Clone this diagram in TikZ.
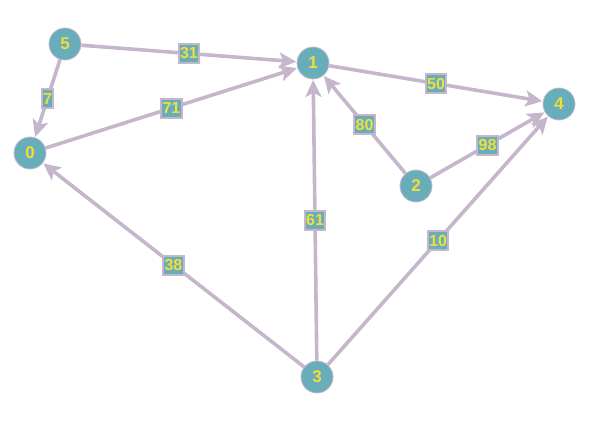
\documentclass[tikz,border=0pt]{standalone}
\usepackage{fontspec}
\setmainfont{Liberation Sans}
\usetikzlibrary{arrows.meta}
\definecolor{vertexfill}{HTML}{68ADBA}
\definecolor{edgecol}{HTML}{C6B6CB}
\definecolor{numcol}{HTML}{F2DE3A}
\begin{document}
\begin{tikzpicture}[x=1pt,y=-1pt,
  vertex/.style={circle,fill=vertexfill,draw=edgecol,line width=0.8pt,minimum size=32pt,inner sep=0pt,
    text=numcol,font=\bfseries\fontsize{17}{17}\selectfont},
  link/.style={draw=edgecol,line width=3.6pt,-{Stealth[length=17pt,width=16pt,inset=4pt]},shorten >=0.5pt},
  weight/.style={fill=vertexfill,draw=edgecol,line width=2pt,inner sep=1.2pt,minimum height=19pt,
    text=numcol,font=\bfseries\fontsize{16}{16}\selectfont,pos=0.5}]
\useasboundingbox (0,0) rectangle (589,423);
\node[vertex] (n5) at (65,44) {5};
\node[vertex] (n1) at (313,63) {1};
\node[vertex] (n4) at (559,104) {4};
\node[vertex] (n0) at (30,153) {0};
\node[vertex] (n2) at (416,186) {2};
\node[vertex] (n3) at (317,377) {3};
\path[link] (n5) -- node[weight] {31} (n1);
\path[link] (n5) -- node[weight] {7} (n0);
\path[link] (n0) -- node[weight] {71} (n1);
\path[link] (n1) -- node[weight] {50} (n4);
\path[link] (n2) -- node[weight] {80} (n1);
\path[link] (n2) -- node[weight] {98} (n4);
\path[link] (n3) -- node[weight] {61} (n1);
\path[link] (n3) -- node[weight] {38} (n0);
\path[link] (n3) -- node[weight] {10} (n4);
\end{tikzpicture}
\end{document}
